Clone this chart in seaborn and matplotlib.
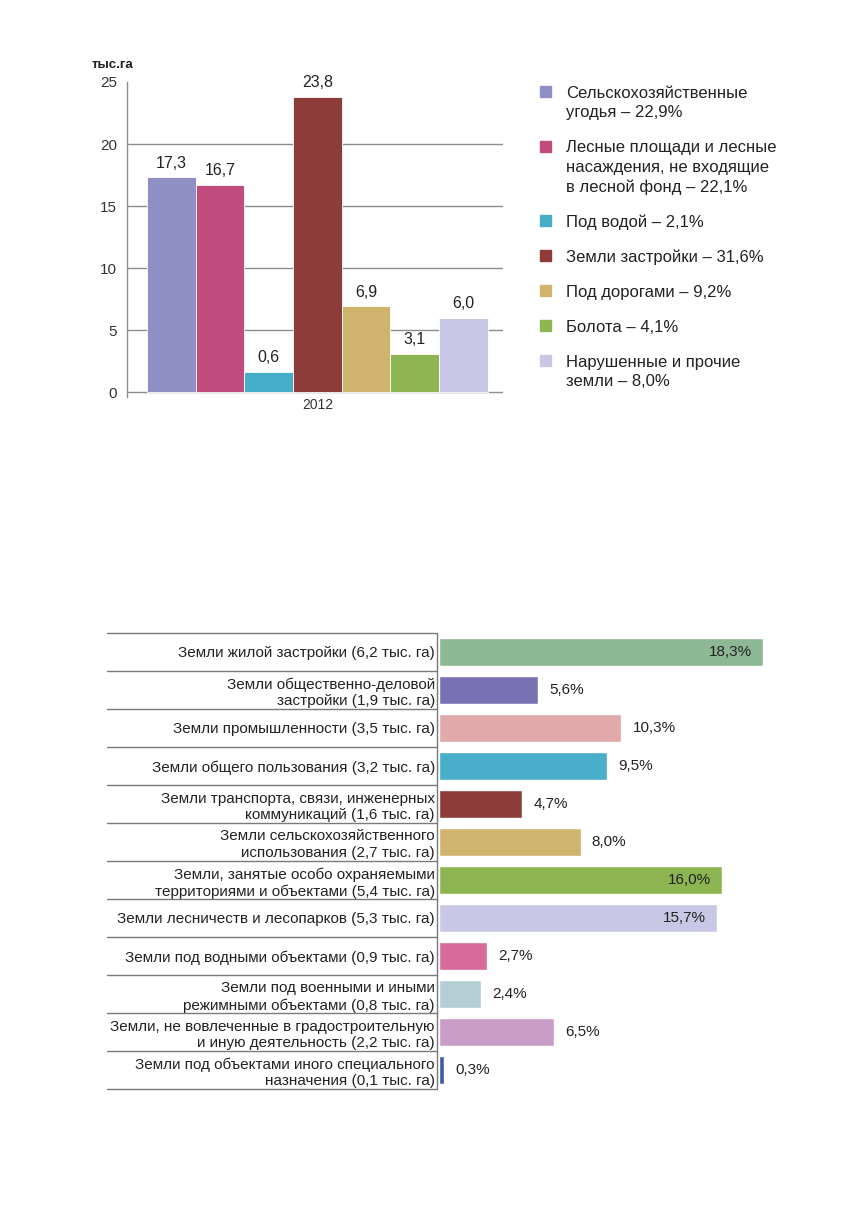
import matplotlib
matplotlib.use('Agg')
import matplotlib.pyplot as plt
import seaborn as sns
from matplotlib.patches import Rectangle

sns.set_style('white')
plt.rcParams['font.family'] = ['Liberation Sans', 'DejaVu Sans']
plt.rcParams['text.color'] = '#222222'

W, H = 856, 1229

# --- top chart data (тыс. га, 2012) ---
land_types = ['Сельскохозяйственные\nугодья – 22,9%',
              'Лесные площади и лесные\nнасаждения, не входящие\nв лесной фонд – 22,1%',
              'Под водой – 2,1%',
              'Земли застройки – 31,6%',
              'Под дорогами – 9,2%',
              'Болота – 4,1%',
              'Нарушенные и прочие\nземли – 8,0%']
bar_heights = [17.3, 16.7, 1.6, 23.8, 6.9, 3.1, 6.0]
bar_labels = ['17,3', '16,7', '0,6', '23,8', '6,9', '3,1', '6,0']
top_colors = ['#8f8fc6', '#c24b7e', '#45adc8', '#8e3c3a', '#d0b46e', '#8db552', '#c8c8e6']

# --- bottom chart data (% of total) ---
zones = ['Земли жилой застройки (6,2 тыс. га)',
         'Земли общественно-деловой\nзастройки (1,9 тыс. га)',
         'Земли промышленности (3,5 тыс. га)',
         'Земли общего пользования (3,2 тыс. га)',
         'Земли транспорта, связи, инженерных\nкоммуникаций (1,6 тыс. га)',
         'Земли сельскохозяйственного\nиспользования (2,7 тыс. га)',
         'Земли, занятые особо охраняемыми\nтерриториями и объектами (5,4 тыс. га)',
         'Земли лесничеств и лесопарков (5,3 тыс. га)',
         'Земли под водными объектами (0,9 тыс. га)',
         'Земли под военными и иными\nрежимными объектами (0,8 тыс. га)',
         'Земли, не вовлеченные в градостроительную\nи иную деятельность (2,2 тыс. га)',
         'Земли под объектами иного специального\nназначения (0,1 тыс. га)']
zone_pct = [18.3, 5.6, 10.3, 9.5, 4.7, 8.0, 16.0, 15.7, 2.7, 2.4, 6.5, 0.3]
zone_labels = ['18,3%', '5,6%', '10,3%', '9,5%', '4,7%', '8,0%', '16,0%', '15,7%',
               '2,7%', '2,4%', '6,5%', '0,3%']
bottom_colors = ['#8db894', '#7872b4', '#e2a9aa', '#48aec9', '#8e3c3a', '#cfb46e',
                 '#8db552', '#c8c8e6', '#d56a9b', '#b3cfd3', '#c89ec8', '#3e5aa8']

fig = plt.figure(figsize=(W / 100, H / 100), dpi=100)

# ---------------- top: vertical bars ----------------
ax1 = fig.add_axes([127 / W, 1 - 397 / H, (503 - 127) / W, (397 - 82) / H])
sns.barplot(x=list(range(7)), y=bar_heights, hue=list(range(7)), palette=top_colors,
            width=1.0, saturation=1, legend=False, edgecolor='white', linewidth=0.6,
            zorder=3, ax=ax1)
ax1.set_xlim(-0.91, 6.81)
ax1.set_ylim(-0.4, 25)
for yv in [0, 5, 10, 15, 20]:
    ax1.axhline(yv, color='#8c8c8c', lw=1, zorder=1)
for i, (h, lbl) in enumerate(zip(bar_heights, bar_labels)):
    ax1.annotate(lbl, (i, h), xytext=(0, 5), textcoords='offset points',
                 ha='center', va='bottom', fontsize=11.5, color='#222222')
ax1.set_yticks([0, 5, 10, 15, 20, 25])
ax1.set_xticks([3], ['2012'])
ax1.tick_params(axis='y', length=4, width=1, color='#8c8c8c', pad=3, labelsize=11, labelcolor='#333333')
ax1.tick_params(axis='x', length=0, pad=1, labelsize=10, labelcolor='#333333')
for s in ['top', 'right', 'bottom']:
    ax1.spines[s].set_visible(False)
ax1.spines['left'].set_color('#8c8c8c')
ax1.spines['left'].set_linewidth(1)
ax1.set_xlabel('')
ax1.set_ylabel('')
fig.text(92 / W, 1 - 65 / H, 'тыс.га', fontsize=9.5, weight='bold', va='center', ha='left')

# legend (first-line baseline of each entry, in px from top)
legend_baselines = [98, 153, 227, 262, 297, 332, 367]
line_gap = 19.5
for lbl, col, yb in zip(land_types, top_colors, legend_baselines):
    n_lines = lbl.count('\n') + 1
    fig.patches.append(Rectangle((540 / W, 1 - (yb - 1) / H), 11 / W, 11 / H,
                                 transform=fig.transFigure, color=col))
    fig.text(566 / W, 1 - (yb + (n_lines - 1) * line_gap) / H, lbl, fontsize=12,
             va='baseline', ha='left', linespacing=1.38, color='#222222')

# ---------------- bottom: horizontal bars ----------------
ax2 = fig.add_axes([439 / W, 1 - 1089 / H, 354 / W, (1089 - 633) / H])
sns.barplot(x=zone_pct, y=zones, hue=zones, palette=bottom_colors, orient='h',
            width=0.72, saturation=1, legend=False, ax=ax2)
ax2.set_xlim(0, 20)
ax2.set_ylim(11.5, -0.5)
for s in ax2.spines.values():
    s.set_visible(False)
ax2.set_xticks([])
ax2.set_xlabel('')
ax2.set_ylabel('')
ax2.tick_params(axis='y', length=0, pad=3, labelsize=11, labelcolor='#222222')
for t in ax2.get_yticklabels():
    t.set_linespacing(1.25)

# table lines on the left
x_left = (107 - 439) / 354
x_right = -2 / 354
ytr = ax2.get_yaxis_transform()
for k in range(13):
    ax2.plot([x_left, x_right], [k - 0.5, k - 0.5], transform=ytr, color='#7a7a7a',
             lw=1, clip_on=False)
ax2.plot([x_right, x_right], [-0.5, 11.5], transform=ytr, color='#7a7a7a', lw=1, clip_on=False)

for i, (v, lbl) in enumerate(zip(zone_pct, zone_labels)):
    if v >= 15:
        ax2.annotate(lbl, (v, i), xytext=(-8, 0), textcoords='offset points',
                     ha='right', va='center', fontsize=11, color='#222222')
    else:
        ax2.annotate(lbl, (v, i), xytext=(8, 0), textcoords='offset points',
                     ha='left', va='center', fontsize=11, color='#222222')

fig.savefig('out.png', dpi=100, facecolor='white')
